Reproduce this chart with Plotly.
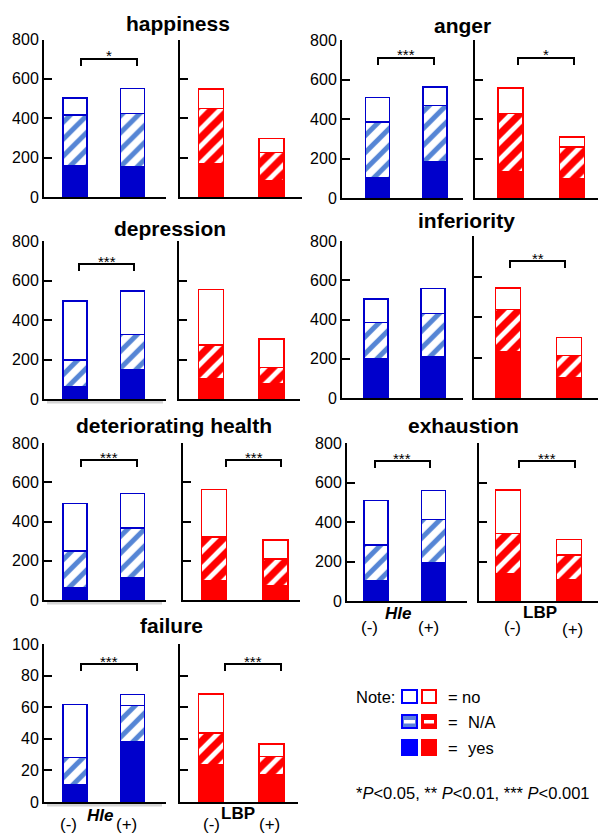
import plotly.graph_objects as go

# ---------------- data ----------------
categories = ["happiness", "anger", "depression", "inferiority",
              "deteriorating health", "exhaustion", "failure"]
groups = ["(-)", "(+)"]

# Hle (blue): counts of yes / N/A / no for (-) and (+)
hle_neg_yes = [160, 104, 62, 198, 63, 101, 11]
hle_neg_na = [257, 280, 135, 188, 186, 183, 17.3]
hle_neg_no = [86, 126, 298, 118, 242, 225, 33.3]
hle_pos_yes = [155, 185, 146, 212, 114, 196, 38.4]
hle_pos_na = [270, 283, 181, 218, 252, 217, 22.8]
hle_pos_no = [127, 94, 220, 127, 177, 147, 6.9]

# LBP (red): counts of yes / N/A / no for (-) and (+)
lbp_neg_yes = [167, 135, 104, 229, 97, 140, 23.6]
lbp_neg_na = [282, 294, 169, 207, 223, 203, 20.1]
lbp_neg_no = [100, 128, 281, 106, 242, 220, 24.7]
lbp_pos_yes = [83, 98, 76, 102, 75, 108, 17.1]
lbp_pos_na = [143, 161, 84, 107, 134, 125, 11.8]
lbp_pos_no = [71, 49, 143, 89, 97, 78, 7.8]

hle_sig = ["*", "***", "***", "", "***", "***", "***"]
lbp_sig = ["", "*", "", "**", "***", "***", "***"]

y_max = [800, 800, 800, 800, 800, 800, 100]
ticks_800 = [0, 200, 400, 600, 800]
ticks_100 = [0, 20, 40, 60, 80, 100]

# ---------------- layout (pixel positions) ----------------
W, H = 598, 833


def px(x):
    return x / W


def py(y):
    return 1 - y / H


# (axis_x, bar1 centre, bar2 centre, axis end, bar width, top y, bottom y)
blue_px = [
    (44, 75, 132.5, 166, 24, 39.5, 197),
    (342, 377.5, 435, 463, 24, 40, 198),
    (44, 75, 132.5, 166, 24, 241, 399),
    (342, 376, 433, 463, 24, 241, 398),
    (44, 75, 132.5, 166, 24, 443, 600),
    (347, 376, 433.5, 467, 24, 443, 601),
    (44, 75, 132.5, 166, 24, 644, 802),
]
red_px = [
    (180, 211, 271.5, 302, 25, 39.5, 197),
    (475, 510.5, 572, 598, 25, 40, 198),
    (179, 211, 271.5, 300, 25, 241, 399),
    (474, 508, 569, 598, 25, 236, 398),
    (183, 214, 275.5, 300, 25, 443, 600),
    (479, 508, 569, 598, 25, 443, 601),
    (180, 211, 271.5, 298, 25, 644, 802),
]
title_px = [(178, 24), (462, 25), (170, 228), (466, 220),
            (174, 425), (463, 425), (172, 625)]
hle_br = [(81, 137, 59), (378, 434, 58), (79, 134, 264), None,
          (81, 137, 460), (375, 430, 461), (81, 137, 664)]
lbp_br = [None, (518, 574, 58), None, (510, 565, 261),
          (226, 281, 460), (519, 575, 461), (225, 281, 664)]

BLUE = "#0000CC"
RED = "#FF0000"
FONT = "Arial, Liberation Sans, sans-serif"

fig = go.Figure()
axes = {}
shapes = []
annotations = []

idx = 0
for i, cat in enumerate(categories):
    for side in ("hle", "lbp"):
        idx += 1
        k = "" if idx == 1 else str(idx)
        if side == "hle":
            ax, c1, c2, end, bw, top, bot = blue_px[i]
            yes = [hle_neg_yes[i], hle_pos_yes[i]]
            na = [hle_neg_na[i], hle_pos_na[i]]
            no = [hle_neg_no[i], hle_pos_no[i]]
            col, fg, sol, show_lab = BLUE, "#5585D5", 0.42, True
            sig, br = hle_sig[i], hle_br[i]
        else:
            ax, c1, c2, end, bw, top, bot = red_px[i]
            yes = [lbp_neg_yes[i], lbp_pos_yes[i]]
            na = [lbp_neg_na[i], lbp_pos_na[i]]
            no = [lbp_neg_no[i], lbp_pos_no[i]]
            col, fg, sol, show_lab = RED, RED, 0.6, False
            sig, br = lbp_sig[i], lbp_br[i]
        s = c2 - c1
        xr = [-(c1 - ax) / s, (end - c1) / s]
        common = dict(x=[0, 1], width=bw / s, xaxis="x" + k, yaxis="y" + k,
                      showlegend=False, hoverinfo="skip")
        fig.add_trace(go.Bar(y=yes, marker=dict(color=col, line=dict(color=col, width=1.5)), **common))
        fig.add_trace(go.Bar(y=na, marker=dict(color="white", line=dict(color=col, width=1.5),
                                               pattern=dict(shape="/", fgcolor=fg, bgcolor="white",
                                                            fgopacity=1, size=12, solidity=sol)),
                             **common))
        fig.add_trace(go.Bar(y=no, marker=dict(color="white", line=dict(color=col, width=1.5)), **common))

        axes["xaxis" + k] = dict(domain=[px(ax), px(end)], range=xr, anchor="y" + k,
                                 showline=True, linecolor="black", linewidth=2,
                                 showticklabels=False, ticks="", showgrid=False,
                                 zeroline=False, fixedrange=True, automargin=False)
        tv = ticks_100 if y_max[i] == 100 else ticks_800
        axes["yaxis" + k] = dict(domain=[py(bot), py(top)], range=[0, y_max[i]], anchor="x" + k,
                                 showline=True, linecolor="black", linewidth=2,
                                 ticks="inside", ticklen=8, tickwidth=2, tickcolor="black",
                                 tickvals=tv, showticklabels=show_lab,
                                 tickfont=dict(size=16, color="black", family=FONT),
                                 showgrid=False, zeroline=False, fixedrange=True,
                                 automargin=False)
        if br is not None and sig:
            x1 = (br[0] - c1) / s
            x2 = (br[1] - c1) / s
            yb = py(br[2])
            yd = py(br[2] + 7)
            shapes.append(dict(type="path", xref="x" + k, yref="paper",
                               path=f"M {x1},{yd} L {x1},{yb} L {x2},{yb} L {x2},{yd}",
                               line=dict(color="black", width=2)))
            annotations.append(dict(x=(x1 + x2) / 2, y=py(br[2] - 3), xref="x" + k, yref="paper",
                                    text=sig, showarrow=False, xanchor="center", yanchor="middle",
                                    font=dict(size=15, color="black", family=FONT)))
    tx, ty = title_px[i]
    annotations.append(dict(x=px(tx), y=py(ty), xref="paper", yref="paper", text=f"<b>{cat}</b>",
                            showarrow=False, xanchor="center", yanchor="middle",
                            font=dict(size=21, color="black", family=FONT)))

# faint shadows under some blue panels
for (x0, x1, yy) in [(47, 163, 402), (47, 162, 603), (47, 162, 805)]:
    shapes.append(dict(type="line", xref="paper", yref="paper", x0=px(x0), x1=px(x1),
                       y0=py(yy), y1=py(yy), line=dict(color="#d4d4d4", width=3), layer="below"))

# x labels
xl = [("(-)", 369, 627), ("<b><i>Hle</i></b>", 398, 613), ("(+)", 428, 627),
      ("(-)", 512, 627), ("<b>LBP</b>", 540, 612), ("(+)", 572, 629),
      ("(-)", 68, 824), ("<b><i>Hle</i></b>", 100, 815), ("(+)", 126, 824),
      ("(-)", 211, 824), ("<b>LBP</b>", 238, 813), ("(+)", 269, 824)]
for t, x, y in xl:
    annotations.append(dict(x=px(x), y=py(y), xref="paper", yref="paper", text=t, showarrow=False,
                            xanchor="center", yanchor="middle",
                            font=dict(size=17, color="black", family=FONT)))


# legend (note)
def rect(x0, y0, x1, y1, fill, line):
    shapes.append(dict(type="rect", xref="paper", yref="paper", x0=px(x0), x1=px(x1),
                       y0=py(y1), y1=py(y0), fillcolor=fill, line=dict(color=line, width=2)))


rect(402, 690, 417, 703, "white", "#0000FF")
rect(422, 690, 436, 703, "white", RED)
rect(402, 715, 417, 728, "#5B80DD", "#0000FF")
rect(422, 715, 436, 728, RED, RED)
shapes.append(dict(type="rect", xref="paper", yref="paper", x0=px(404), x1=px(415), y0=py(723.5),
                   y1=py(720), fillcolor="white", line=dict(width=0)))
shapes.append(dict(type="rect", xref="paper", yref="paper", x0=px(424), x1=px(434), y0=py(723.5),
                   y1=py(720), fillcolor="white", line=dict(width=0)))
rect(402, 740, 417, 755, "#0000FF", "#0000FF")
rect(422, 740, 436, 755, RED, RED)

leg_txt = [("Note:", 354, 697), ("=", 446, 697), ("no", 460, 697),
           ("=", 446, 722), ("N/A", 466, 722), ("=", 446, 748), ("yes", 466, 748)]
for t, x, y in leg_txt:
    annotations.append(dict(x=px(x), y=py(y), xref="paper", yref="paper", text=t, showarrow=False,
                            xanchor="left", yanchor="middle",
                            font=dict(size=16.5, color="black", family=FONT)))
annotations.append(dict(x=px(354), y=py(793), xref="paper", yref="paper",
                        text="*<i>P</i>&lt;0.05, ** <i>P</i>&lt;0.01, *** <i>P</i>&lt;0.001",
                        showarrow=False, xanchor="left", yanchor="middle",
                        font=dict(size=16.5, color="black", family=FONT)))

fig.update_layout(width=W, height=H, margin=dict(l=0, r=0, t=0, b=0, pad=0, autoexpand=False),
                  paper_bgcolor="white", plot_bgcolor="white", barmode="stack",
                  shapes=shapes, annotations=annotations, **axes)

fig.write_html("out.html", config={"displayModeBar": False},
               post_script="document.body.style.margin='0px';document.body.style.overflow='hidden';")
